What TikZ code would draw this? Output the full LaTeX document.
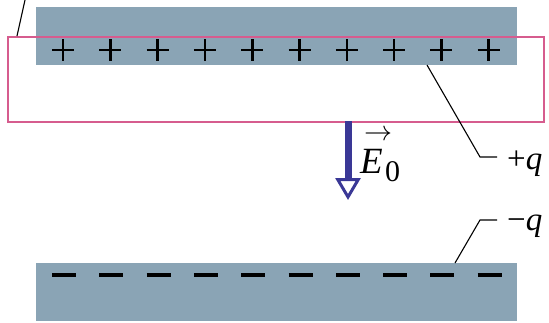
\documentclass[tikz,border=0pt]{standalone}
\usepackage{fix-cm}
\usepackage{fontspec}
\setmainfont{Liberation Serif}
\usetikzlibrary{arrows.meta}
\definecolor{platecol}{RGB}{138,164,181}
\definecolor{pinkcol}{RGB}{214,92,142}
\definecolor{arrowcol}{RGB}{58,56,150}
\begin{document}
\begin{tikzpicture}[x=1pt,y=-1pt,
  plate/.style={fill=platecol,draw=none,inner sep=0pt,anchor=north west},
  gauss/.style={draw=pinkcol,line width=1.5pt,inner sep=0pt},
  leader/.style={draw=black,line width=1.1pt},
  sign/.style={black},
  lbl/.style={font=\fontsize{33}{33}\selectfont,inner sep=0pt}]
\useasboundingbox (0,0) rectangle (549,322);
% plates
\node[plate,minimum width=481pt,minimum height=58pt] (top) at (36,7) {};
\node[plate,minimum width=481pt,minimum height=58pt] (bot) at (36,263) {};
% plus signs
\foreach \i in {0,...,9}{
  \pgfmathsetmacro{\px}{63+47.3*\i}
  \draw[sign,line width=2.6pt] (\px-11,50) -- (\px+11,50);
  \draw[sign,line width=2.6pt] (\px,39) -- (\px,61);
}
% minus signs
\foreach \i in {0,...,9}{
  \pgfmathsetmacro{\mx}{64+47.3*\i}
  \draw[sign,line width=4.2pt] (\mx-12,275) -- (\mx+12,275);
}
% gaussian surface
\node[gauss,minimum width=536pt,minimum height=85pt,anchor=north west] (gs) at (7,36) {};
% leader at top-left
\coordinate (tl) at (25,0);
\coordinate (tlb) at (17,36);
\draw[leader] (tlb) -- (tl);
% field arrow
\coordinate (ea) at (348,121);
\coordinate (eb) at (348,200);
\draw[arrowcol,line width=7pt,-{Triangle[open,width=25pt,length=22pt,line width=3pt]}] (ea) -- (eb);
\node[font=\fontsize{37}{37}\selectfont,inner sep=0pt,anchor=base west] (E) at (360,173) {\textit{E}};
\node[font=\fontsize{30}{30}\selectfont,inner sep=0pt,anchor=base west] (E0) at (385,181) {0};
\node[font=\fontsize{28}{28}\selectfont,inner sep=0pt] (Earr) at (378,135) {$\rightarrow$};
% +q label
\node[lbl,anchor=base west] (pq) at (507,169) {+\textit{q}};
\coordinate (pqa) at (427,65);
\coordinate (pqb) at (480,157);
\coordinate (pqc) at (497,157);
\draw[leader] (pqa) -- (pqb) -- (pqc);
% -q label
\node[lbl,anchor=base west] (mq) at (507,230) {\char"2212\textit{q}};
\coordinate (mqa) at (455,263);
\coordinate (mqb) at (480,220);
\coordinate (mqc) at (497,220);
\draw[leader] (mqa) -- (mqb) -- (mqc);
\end{tikzpicture}
\end{document}
